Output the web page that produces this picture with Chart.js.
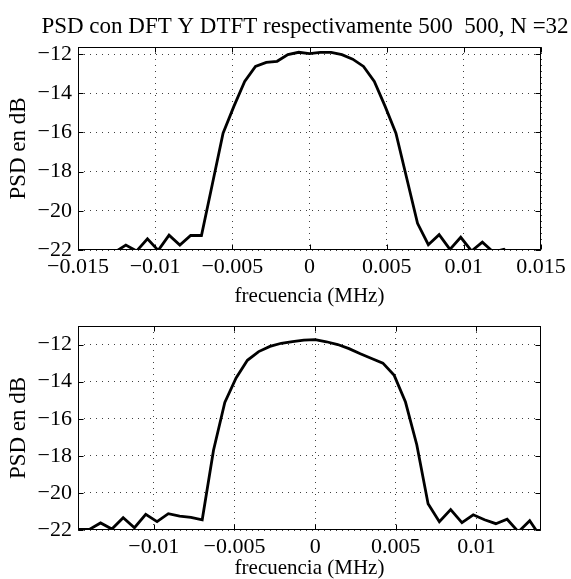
<!DOCTYPE html>
<html>
<head>
<meta charset="utf-8">
<script src="https://cdn.jsdelivr.net/npm/chart.js@4.4.0/dist/chart.umd.min.js"></script>
<style>
  html, body { margin: 0; padding: 0; background: #fff; }
  #wrap { position: relative; width: 571px; height: 579px; }
  canvas { position: absolute; left: 0; }
</style>
</head>
<body>
<div id="wrap">
  <canvas id="dft" width="571" height="310" style="top:0"></canvas>
  <canvas id="dtft" width="571" height="269" style="top:310px"></canvas>
</div>
<script>
// frequency bins (MHz) and PSD values (dB)
const freqDft = [-0.0147, -0.014, -0.0133, -0.0126, -0.0119, -0.0112, -0.0105, -0.0098, -0.0091, -0.0084,
  -0.0077, -0.007, -0.0063, -0.0056, -0.0049, -0.0042, -0.0035, -0.0028, -0.0021, -0.0014, -0.0007,
  0, 0.0007, 0.0014, 0.0021, 0.0028, 0.0035, 0.0042, 0.0049, 0.0056, 0.0063, 0.007, 0.0077, 0.0084,
  0.0091, 0.0098, 0.0105, 0.0112, 0.0119, 0.0126, 0.0133, 0.014, 0.0147];
const psdDft = [-23.0, -23.0, -22.6, -22.1, -21.75, -22.05, -21.43, -22.02, -21.24, -21.75,
  -21.26, -21.26, -18.66, -16.04, -14.67, -13.40, -12.63, -12.43, -12.37, -12.03, -11.91,
  -11.98, -11.91, -11.91, -12.03, -12.26, -12.63, -13.40, -14.67, -16.04, -18.34, -20.64, -21.73, -21.22,
  -21.97, -21.35, -22.05, -21.6, -22.1, -21.97, -22.5, -23.0, -23.0];

const freqDtft = [-0.0147, -0.014, -0.0133, -0.0126, -0.0119, -0.0112, -0.0105, -0.0098, -0.0091, -0.0084,
  -0.0077, -0.007, -0.0063, -0.0056, -0.0049, -0.0042, -0.0035, -0.0028, -0.0021, -0.0014, -0.0007,
  0, 0.0007, 0.0014, 0.0021, 0.0028, 0.0035, 0.0042, 0.0049, 0.0056, 0.0063, 0.007, 0.0077, 0.0084,
  0.0091, 0.0098, 0.0105, 0.0112, 0.0119, 0.0126, 0.0133, 0.014];
const psdDtft = [-21.97, -21.97, -21.62, -21.95, -21.34, -21.88, -21.16, -21.55, -21.12, -21.25,
  -21.32, -21.45, -17.7, -15.12, -13.8, -12.85, -12.38, -12.1, -11.93, -11.84, -11.76,
  -11.73, -11.85, -12.0, -12.22, -12.5, -12.75, -13.0, -13.66, -15.1, -17.4, -20.58, -21.55, -20.9,
  -21.6, -21.18, -21.45, -21.66, -21.42, -22.1, -21.5, -22.4];

const xTicksDft = [-0.015, -0.01, -0.005, 0, 0.005, 0.01, 0.015];
const xTicksDtft = [-0.01, -0.005, 0, 0.005, 0.01];
const yTicks = [-22, -20, -18, -16, -14, -12];

const titleText = "PSD con DFT Y DTFT respectivamente 500  500, N =32";
const xLabel = "frecuencia (MHz)";
const yLabel = "PSD en dB";

const FONT = "Liberation Serif";

// matlab style minus sign
const fmt = v => (v < 0 ? "\u2212" : "") + String(Math.abs(v));

// frame box, inward tick marks and optional title
const matlabBox = {
  id: "matlabBox",
  afterDatasetsDraw(chart, args, opts) {
    const { ctx, chartArea: a, scales } = chart;
    const L = Math.round(a.left) + 0.5, R = Math.round(a.right) - 0.5;
    const T = Math.round(a.top) + 0.5, B = Math.round(a.bottom) - 0.5;
    ctx.save();
    ctx.strokeStyle = "#000";
    ctx.lineWidth = 1;
    ctx.beginPath();
    scales.x.ticks.forEach(t => {
      const px = Math.round(scales.x.getPixelForValue(t.value)) + 0.5;
      ctx.moveTo(px, B); ctx.lineTo(px, B - 5);
      ctx.moveTo(px, T); ctx.lineTo(px, T + 5);
    });
    scales.y.ticks.forEach(t => {
      const py = Math.round(scales.y.getPixelForValue(t.value)) + 0.5;
      ctx.moveTo(L, py); ctx.lineTo(L + 5, py);
      ctx.moveTo(R, py); ctx.lineTo(R - 5, py);
    });
    ctx.stroke();
    ctx.strokeRect(L, T, R - L, B - T);
    if (opts.title) {
      ctx.fillStyle = "#000";
      ctx.font = "23px '" + FONT + "'";
      ctx.textAlign = "center";
      ctx.textBaseline = "middle";
      ctx.fillText(opts.title, 305, opts.titleY);
    }
    ctx.restore();
  }
};

function makeChart(id, freq, psd, xTicks, xMin, xMax, yMax, padTop, xHeight, title) {
  return new Chart(document.getElementById(id), {
    type: "line",
    data: {
      datasets: [{
        data: freq.map((f, i) => ({ x: f, y: psd[i] })),
        borderColor: "#000",
        borderWidth: 2.8,
        pointRadius: 0,
        tension: 0,
        clip: 0
      }]
    },
    options: {
      responsive: false,
      animation: false,
      layout: { padding: { top: padTop, right: 30, left: 0, bottom: 0 } },
      plugins: {
        legend: { display: false },
        tooltip: { enabled: false },
        matlabBox: { title: title, titleY: 27 }
      },
      scales: {
        x: {
          type: "linear",
          min: xMin,
          max: xMax,
          afterBuildTicks: s => { s.ticks = xTicks.map(v => ({ value: v })); },
          afterFit: s => { s.height = xHeight; s.paddingLeft = 0; s.paddingRight = 0; },
          grid: { color: "rgba(0,0,0,0.75)", lineWidth: 1, drawTicks: false },
          border: { display: false, dash: [1, 5] },
          ticks: {
            autoSkip: false, maxRotation: 0, padding: 6, color: "#000",
            font: { family: FONT, size: 22, lineHeight: 1 },
            callback: v => fmt(v)
          },
          title: {
            display: true, text: xLabel, color: "#000",
            font: { family: FONT, size: 21, lineHeight: 1 },
            padding: { top: 0, bottom: id === "dft" ? 3 : 0 }
          }
        },
        y: {
          min: -22,
          max: yMax,
          afterBuildTicks: s => { s.ticks = yTicks.map(v => ({ value: v })); },
          afterFit: s => { s.width = 78; s.paddingTop = 0; s.paddingBottom = 0; },
          grid: { color: "rgba(0,0,0,0.75)", lineWidth: 1, drawTicks: false },
          border: { display: false, dash: [1, 5] },
          ticks: {
            autoSkip: false, padding: 6, color: "#000",
            font: { family: FONT, size: 22, lineHeight: 1 },
            callback: v => fmt(v)
          },
          title: {
            display: true, text: yLabel, color: "#000",
            font: { family: FONT, size: 23, lineHeight: 1 },
            padding: { top: 7, bottom: 0 }
          }
        }
      }
    },
    plugins: [matlabBox]
  });
}

makeChart("dft", freqDft, psdDft, xTicksDft, -0.015, 0.015, -11.64, 47, 60, titleText);
makeChart("dtft", freqDtft, psdDtft, xTicksDtft, -0.0147, 0.014, -11.0, 16, 49, null);
</script>
</body>
</html>
